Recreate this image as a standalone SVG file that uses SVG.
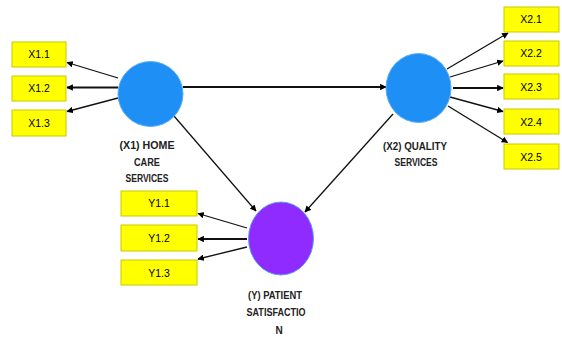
<svg xmlns="http://www.w3.org/2000/svg" width="562" height="337" viewBox="0 0 562 337">
<defs>
<style>
.box{fill:#FFFF00;stroke:#C9C900;stroke-width:1}
.bt{font-family:"Liberation Sans",Arial,sans-serif;font-size:10.5px;fill:#000;text-anchor:middle}
.lbl{font-family:"Liberation Sans",Arial,sans-serif;font-size:10px;font-weight:bold;fill:#222;text-anchor:middle}
.lv{fill:#1E8FF5;stroke:#5AAEF5;stroke-width:1}
.lvp{fill:#8F2BFF;stroke:#5AA0F0;stroke-width:1}
.c{stroke:#111;stroke-width:1.3;fill:none;marker-end:url(#ah)}
.cw{stroke:#111;stroke-width:2;fill:none;marker-end:url(#ah)}
</style>
<marker id="ah" viewBox="0 0 10 10" refX="9" refY="5" markerWidth="6.5" markerHeight="6.5" markerUnits="userSpaceOnUse" orient="auto">
<path d="M0,0 L10,5 L0,10 z" fill="#000"/>
</marker>
</defs>
<rect width="562" height="337" fill="#fff"/>
<g id="connectors">
<line class="cw" x1="183" y1="87" x2="386" y2="87"/>
<line class="c" x1="174" y1="116" x2="256" y2="211"/>
<line class="c" x1="393" y1="114" x2="305" y2="212"/>
<line class="c" x1="118" y1="78" x2="67" y2="62.5"/>
<line class="cw" x1="118" y1="87.5" x2="67" y2="87.5"/>
<line class="c" x1="118" y1="98" x2="67" y2="111.5"/>
<line class="c" x1="447" y1="69" x2="508" y2="33"/>
<line class="c" x1="450" y1="77" x2="503" y2="61"/>
<line class="cw" x1="453" y1="88" x2="503" y2="88"/>
<line class="c" x1="450" y1="97" x2="503" y2="111.5"/>
<line class="c" x1="448" y1="106" x2="507.5" y2="142.5"/>
<line class="c" x1="247" y1="228" x2="198" y2="213.5"/>
<line class="cw" x1="247" y1="239" x2="198" y2="239"/>
<line class="c" x1="247" y1="247" x2="198" y2="259"/>
</g>
<g id="X1">
<ellipse class="lv" cx="150.5" cy="94" rx="32.5" ry="32.5"/>
<text class="lbl" x="147" y="149" textLength="55" lengthAdjust="spacingAndGlyphs">(X1) HOME</text>
<text class="lbl" x="147" y="165.5" textLength="26" lengthAdjust="spacingAndGlyphs">CARE</text>
<text class="lbl" x="147" y="182" textLength="43" lengthAdjust="spacingAndGlyphs">SERVICES</text>
</g>
<g id="X2">
<ellipse class="lv" cx="418.5" cy="88" rx="32.5" ry="34.5"/>
<text class="lbl" x="415" y="149.5" textLength="64" lengthAdjust="spacingAndGlyphs">(X2) QUALITY</text>
<text class="lbl" x="416" y="166" textLength="43" lengthAdjust="spacingAndGlyphs">SERVICES</text>
</g>
<g id="Y">
<ellipse class="lvp" cx="281" cy="238.5" rx="32.5" ry="36.5"/>
<text class="lbl" x="275" y="299" textLength="54" lengthAdjust="spacingAndGlyphs">(Y) PATIENT</text>
<text class="lbl" x="276" y="316" textLength="59" lengthAdjust="spacingAndGlyphs">SATISFACTIO</text>
<text class="lbl" x="279" y="334">N</text>
</g>
<g id="X1.1"><rect class="box" x="12" y="42" width="54" height="25"/><text class="bt" x="39" y="58">X1.1</text></g>
<g id="X1.2"><rect class="box" x="12" y="76" width="54" height="25"/><text class="bt" x="39" y="92">X1.2</text></g>
<g id="X1.3"><rect class="box" x="12" y="110" width="54" height="26"/><text class="bt" x="39" y="126.5">X1.3</text></g>
<g id="X2.1"><rect class="box" x="504" y="7" width="55" height="25"/><text class="bt" x="531" y="23">X2.1</text></g>
<g id="X2.2"><rect class="box" x="504" y="41" width="55" height="25"/><text class="bt" x="531" y="57">X2.2</text></g>
<g id="X2.3"><rect class="box" x="504" y="74" width="55" height="25"/><text class="bt" x="531" y="90.5">X2.3</text></g>
<g id="X2.4"><rect class="box" x="504" y="109" width="55" height="25"/><text class="bt" x="531" y="125.5">X2.4</text></g>
<g id="X2.5"><rect class="box" x="504" y="144" width="55" height="25"/><text class="bt" x="531" y="160.5">X2.5</text></g>
<g id="Y1.1"><rect class="box" x="121" y="191" width="76" height="25"/><text class="bt" x="159" y="207">Y1.1</text></g>
<g id="Y1.2"><rect class="box" x="121" y="225" width="76" height="26"/><text class="bt" x="159" y="241.5">Y1.2</text></g>
<g id="Y1.3"><rect class="box" x="121" y="260" width="76" height="25"/><text class="bt" x="159" y="276.5">Y1.3</text></g>
</svg>
